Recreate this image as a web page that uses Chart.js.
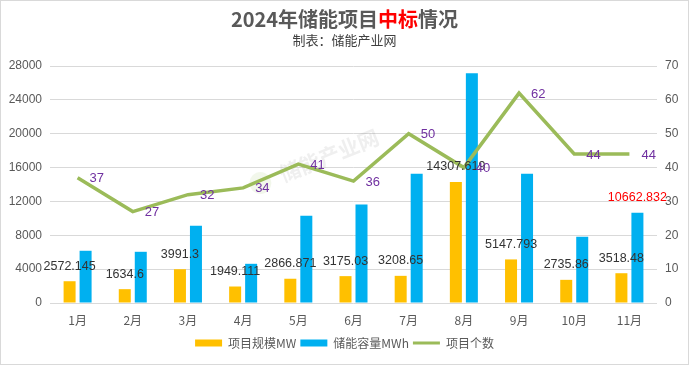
<!DOCTYPE html>
<html>
<head>
<meta charset="utf-8">
<script src="https://cdn.jsdelivr.net/npm/chart.js@4"></script>
<style>
  body { margin: 0; background: #fff; }
  #wrap { position: relative; width: 689px; height: 365px; }
  #title { position: absolute; left: 0; top: 6px; width: 100%; text-align: center;
    font: bold 20px "Noto Sans CJK SC", sans-serif; color: #595959; line-height: 26px; }
  #title .red { color: #ff0000; }
  #sub { position: absolute; left: 0; top: 31px; width: 100%; text-align: center;
    font: 13px "Noto Sans CJK SC", sans-serif; color: #404040; line-height: 18px; }
</style>
</head>
<body>
<div id="wrap">
  <canvas id="myChart" width="689" height="365"></canvas>
  <div id="title">2024年储能项目<span class="red">中标</span>情况</div>
  <div id="sub">制表：储能产业网</div>
</div>
<script>
// data
const months = ['1月', '2月', '3月', '4月', '5月', '6月', '7月', '8月', '9月', '10月', '11月'];
const scaleMW = [2572.145, 1634.6, 3991.3, 1949.111, 2866.871, 3175.03, 3208.65, 14307.619, 5147.793, 2735.86, 3518.48];
const capacityMWh = [6170, 6050, 9130, 4630, 10320, 11630, 15270, 27130, 15270, 7830, 10662.832];
const projectCount = [37, 27, 32, 34, 41, 36, 50, 40, 62, 44, 44];
const leftTicks = [0, 4000, 8000, 12000, 16000, 20000, 24000, 28000];
const rightTicks = [0, 10, 20, 30, 40, 50, 60, 70];

const frame = {
  id: 'frame',
  beforeDraw(chart) {
    const ctx = chart.ctx;
    ctx.save();
    ctx.fillStyle = '#fff';
    ctx.fillRect(0, 0, chart.width, chart.height);
    ctx.strokeStyle = '#d9d9d9';
    ctx.lineWidth = 1;
    ctx.strokeRect(0.5, 0.5, chart.width - 1, chart.height - 1);
    ctx.restore();
  },
  beforeDatasetsDraw(chart) {
    // faint watermark
    const ctx = chart.ctx;
    ctx.save();
    ctx.translate(318, 160);
    ctx.rotate(-0.38);
    ctx.fillStyle = 'rgba(120,120,120,0.12)';
    ctx.font = 'bold 21px "Noto Sans CJK SC"';
    ctx.textAlign = 'center';
    ctx.textBaseline = 'middle';
    ctx.fillText('储能产业网', 12, 0);
    ctx.fillStyle = 'rgba(170,200,120,0.15)';
    ctx.beginPath();
    ctx.arc(-62, 0, 11, 0, Math.PI * 2);
    ctx.fill();
    ctx.restore();
  }
};

const valueLabels = {
  id: 'valueLabels',
  afterDatasetsDraw(chart) {
    const ctx = chart.ctx;
    ctx.save();
    ctx.textAlign = 'center';
    ctx.textBaseline = 'middle';
    ctx.font = '12.5px "Liberation Sans"';
    ctx.fillStyle = '#333333';
    chart.getDatasetMeta(0).data.forEach((bar, i) => {
      ctx.fillText(String(scaleMW[i]), bar.x, bar.y - 15);
    });
    // only the last month's capacity is labelled, in red
    const blue = chart.getDatasetMeta(1).data;
    const last = blue[blue.length - 1];
    ctx.fillStyle = '#ff0000';
    ctx.fillText(String(capacityMWh[capacityMWh.length - 1]), last.x, last.y - 15);
    ctx.textAlign = 'left';
    ctx.fillStyle = '#7030a0';
    ctx.font = '13px "Liberation Sans"';
    chart.getDatasetMeta(2).data.forEach((pt, i) => {
      ctx.fillText(String(projectCount[i]), pt.x + 12, pt.y + 1);
    });
    ctx.restore();
  }
};

new Chart('myChart', {
  type: 'bar',
  data: {
    labels: months,
    datasets: [
      {
        label: '项目规模MW',
        data: scaleMW,
        backgroundColor: '#ffc000',
        yAxisID: 'y',
        order: 1,
        categoryPercentage: 0.58,
        barPercentage: 0.75
      },
      {
        label: '储能容量MWh',
        data: capacityMWh,
        backgroundColor: '#00b0f0',
        yAxisID: 'y',
        order: 1,
        categoryPercentage: 0.58,
        barPercentage: 0.75
      },
      {
        type: 'line',
        label: '项目个数',
        data: projectCount,
        borderColor: '#9bbb59',
        backgroundColor: '#9bbb59',
        borderWidth: 3.5,
        pointRadius: 0,
        tension: 0,
        yAxisID: 'y1',
        order: 0
      }
    ]
  },
  options: {
    responsive: false,
    animation: false,
    layout: { padding: { top: 66, left: 0, right: 0, bottom: 6 } },
    plugins: {
      title: { display: false },
      tooltip: { enabled: false },
      legend: {
        position: 'bottom',
        labels: {
          usePointStyle: true,
          pointStyleWidth: 27,
          boxHeight: 7,
          padding: 4,
          color: '#595959',
          font: { family: '"Noto Sans CJK SC"', size: 12 },
          generateLabels(chart) {
            return chart.data.datasets.map((ds, i) => ({
              text: ds.label,
              datasetIndex: i,
              fillStyle: ds.type === 'line' ? ds.borderColor : ds.backgroundColor,
              strokeStyle: ds.type === 'line' ? ds.borderColor : ds.backgroundColor,
              lineWidth: ds.type === 'line' ? 3 : 0,
              pointStyle: ds.type === 'line' ? 'line' : 'rect',
              fontColor: '#595959',
              hidden: false
            }));
          }
        }
      }
    },
    scales: {
      x: {
        grid: { display: false, drawTicks: false },
        border: { display: false },
        ticks: { color: '#595959', font: { family: '"Noto Sans CJK SC"', size: 12 }, padding: 10 },
        afterFit(scale) { scale.height = 30; }
      },
      y: {
        position: 'left',
        min: 0,
        max: 28000,
        afterBuildTicks(scale) { scale.ticks = leftTicks.map(v => ({ value: v })); },
        grid: { color: '#d9d9d9', drawTicks: false },
        border: { display: false },
        ticks: { color: '#595959', font: { family: '"Liberation Sans"', size: 12 }, padding: 8,
          callback: v => String(v) },
        afterFit(scale) { scale.width = 50; }
      },
      y1: {
        position: 'right',
        min: 0,
        max: 70,
        afterBuildTicks(scale) { scale.ticks = rightTicks.map(v => ({ value: v })); },
        grid: { drawOnChartArea: false, drawTicks: false },
        border: { display: false },
        ticks: { color: '#595959', font: { family: '"Liberation Sans"', size: 12 }, padding: 8 },
        afterFit(scale) { scale.width = 32; }
      }
    }
  },
  plugins: [frame, valueLabels]
});
</script>
</body>
</html>
